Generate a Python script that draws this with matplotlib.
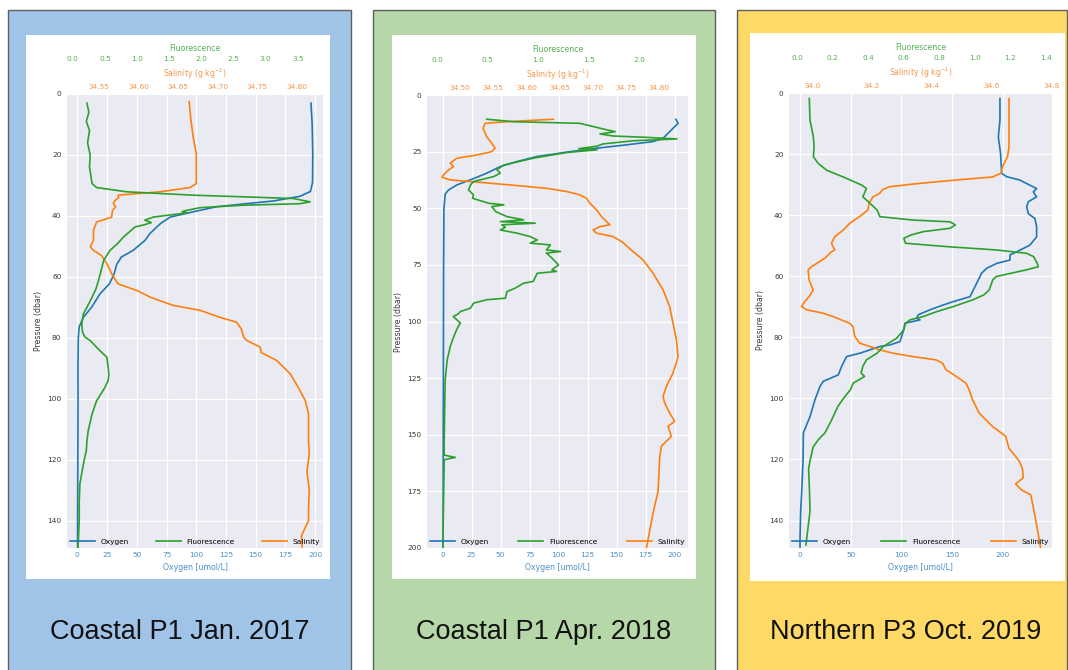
import matplotlib
matplotlib.use("Agg")
import matplotlib.pyplot as plt
from matplotlib.patches import Rectangle
from matplotlib.ticker import FixedLocator, FormatStrFormatter

W, H = 1068, 670

# ---------------- profile data (pressure in dbar, value) ----------------
# Coastal P1, Jan. 2017
p1_oxy_p = [3, 10, 20, 29, 32, 33.6, 35.1, 36, 37, 38.7, 40.4, 42.5, 45.8, 48, 51.3, 53.5,
            56, 59, 62.3, 65.6, 70, 73.3, 76.5, 80, 90, 100, 120, 140, 149]
p1_oxy = [196.5, 197.5, 198, 197.8, 196, 187, 165, 142, 117, 97, 78, 70, 61, 57, 47, 37,
          33, 31, 27, 19, 12, 5, 1.5, 0.8, 0.5, 0.6, 0.4, 0.2, 0.2]

p1_flu_p = [3, 6, 9, 12, 16, 20, 24, 29.4, 30.7, 32.1, 33.2, 34.3, 35.4, 36, 36.5, 37.3, 38.2,
            38.6, 39.0, 40.4, 41.4, 42.2, 43, 43.6, 46.9, 49, 51.3, 54.6, 58, 61.2, 64, 66.7,
            70, 72.1, 75.4, 78, 79.8, 80.9, 84.2, 86.4, 89.7, 92, 94, 96.3, 100.7, 105, 110.5,
            113.8, 117, 122, 128, 134, 140, 145, 149]
p1_flu = [0.22, 0.25, 0.21, 0.26, 0.23, 0.27, 0.26, 0.30, 0.37, 0.84, 1.87, 3.43, 3.69, 3.53,
          2.65, 1.98, 1.77, 1.70, 1.78, 1.25, 1.12, 1.22, 1.10, 0.97, 0.79, 0.70, 0.58, 0.48,
          0.44, 0.40, 0.36, 0.30, 0.22, 0.165, 0.14, 0.15, 0.19, 0.27, 0.42, 0.53, 0.55, 0.56,
          0.55, 0.50, 0.37, 0.30, 0.24, 0.22, 0.21, 0.16, 0.11, 0.10, 0.10, 0.09, 0.08]

p1_sal_p = [2.5, 8, 14, 19.5, 25, 29.4, 30.7, 32.1, 33.2, 34, 35, 36, 37, 38.2, 40.4, 42, 44.7,
            48, 50.2, 51.3, 53, 55.7, 59, 62.3, 64.5, 66.7, 69.4, 71, 73.3, 74.9, 77.1, 79.8,
            80.9, 83.1, 84.8, 87.5, 91.9, 96.3, 100.7, 105, 110, 114, 118, 124, 130, 136, 140,
            145, 149]
p1_sal = [34.664, 34.666, 34.669, 34.673, 34.673, 34.673, 34.665, 34.627, 34.574, 34.575,
          34.570, 34.568, 34.571, 34.567, 34.566, 34.547, 34.543, 34.543, 34.539, 34.543,
          34.553, 34.560, 34.566, 34.574, 34.598, 34.615, 34.644, 34.678, 34.703, 34.724,
          34.730, 34.733, 34.737, 34.754, 34.755, 34.775, 34.792, 34.802, 34.811, 34.815,
          34.815, 34.815, 34.816, 34.813, 34.816, 34.815, 34.815, 34.806, 34.807]

# Coastal P1, Apr. 2018
p2_oxy_p = [10.7, 12.5, 14.7, 16.9, 19.1, 20.6, 22, 23.5, 25, 27.2, 29.4, 31.6, 34.5, 37.5,
            39.7, 41.9, 43.7, 50, 75, 100, 150, 200]
p2_oxy = [201, 203, 198.6, 194.3, 190, 181, 158.5, 132.7, 110, 81, 64, 49.6, 38.2, 23.8,
          12.4, 5.2, 2.3, 1.2, 0.9, 0.8, 0.6, 0.5]

p2_flu_p = [10.7, 11.8, 12.5, 14, 15.4, 16.2, 17.2, 18.1, 18.7, 19.4, 20.2, 21.6, 22.6, 23.7,
            24.2, 25.4, 27.9, 30.9, 33, 34.5, 36, 38.2, 39.7, 41.9, 44.1, 45.6, 47.8, 48.5,
            49.3, 51.5, 53.7, 55.1, 55.9, 56.6, 57.3, 58.4, 59.6, 61, 62.5, 64, 65.4, 66.2,
            68.4, 69.1, 69.8, 72, 75, 77.2, 77.9, 78.7, 82.3, 83.1, 85.3, 86.8, 89.7, 90.4,
            91.9, 94.1, 95.6, 96.6, 97.8, 100.7, 102.9, 106.6, 111, 116.9, 125.7, 137.5, 152,
            159, 160, 161, 175, 190, 200]
p2_flu = [0.49, 0.76, 1.41, 1.55, 1.68, 1.76, 1.61, 1.74, 2.07, 2.37, 1.94, 1.64, 1.58, 1.40,
          1.58, 1.28, 0.95, 0.66, 0.59, 0.625, 0.56, 0.36, 0.33, 0.31, 0.36, 0.35, 0.51, 0.66,
          0.54, 0.58, 0.69, 0.855, 0.625, 0.97, 0.64, 0.675, 0.625, 0.79, 0.92, 0.99, 0.92,
          1.12, 1.08, 1.22, 1.08, 1.135, 1.20, 1.135, 1.18, 0.99, 0.95, 0.855, 0.77, 0.69,
          0.675, 0.49, 0.36, 0.33, 0.23, 0.21, 0.16, 0.23, 0.20, 0.165, 0.13, 0.10, 0.08,
          0.075, 0.07, 0.07, 0.18, 0.07, 0.065, 0.06, 0.06]

p2_sal_p = [10.7, 11.8, 12.5, 14.7, 18.4, 21.3, 23.5, 25, 26.5, 27.9, 30.1, 31.6, 33.1, 35.3,
            36.3, 37.5, 38.2, 39.7, 41.2, 42.6, 44.1, 45.6, 47.8, 50.7, 53.7, 55.9, 57.3, 58.1,
            59.6, 61, 62.5, 65, 68.4, 72.8, 78.7, 86, 93.4, 100.7, 108, 115.4, 118.3, 122.8,
            128.7, 133.1, 136, 140.4, 144.1, 146.3, 150.7, 155, 160, 175, 184.5, 200]
p2_sal = [34.6405, 34.570, 34.5376, 34.5346, 34.540, 34.5477, 34.5527, 34.5477, 34.525,
          34.495, 34.485, 34.490, 34.4824, 34.475, 34.4725, 34.485, 34.515, 34.575, 34.6305,
          34.6606, 34.6806, 34.6907, 34.6957, 34.7057, 34.7133, 34.7208, 34.7258, 34.7107,
          34.7006, 34.7057, 34.7307, 34.745, 34.7580, 34.7759, 34.791, 34.806, 34.816,
          34.821, 34.8262, 34.8286, 34.826, 34.821, 34.811, 34.806, 34.8085, 34.816, 34.8236,
          34.8135, 34.8186, 34.8036, 34.801, 34.7985, 34.791, 34.781]

# Northern P3, Oct. 2019
p3_oxy_p = [1.8, 8.9, 14.4, 19.8, 26.3, 27.4, 28.5, 30.2, 31.3, 32.4, 34, 35.6, 37.3, 39.5,
            41.1, 43.8, 47.1, 49.8, 52, 53, 54.7, 55.8, 57.4, 59, 62.3, 66.7, 68.3, 69.4, 71,
            72.6, 73.7, 74.3, 75.4, 78.1, 81.4, 82.5, 83, 84.1, 85.2, 86.3, 89.5, 92.3, 94.4,
            96.1, 100.4, 105.9, 111.3, 120, 130, 137, 145.5, 149]
p3_oxy = [197.4, 197.4, 195.8, 198, 199.1, 204, 217, 227, 233.6, 230.3, 233.6, 225.4, 223.8,
          225.4, 231.9, 233.6, 233.6, 227, 214, 207.3, 207.3, 194.2, 184.3, 179.3, 174.4,
          167.8, 151.4, 141.5, 128.3, 116.8, 115.2, 118.5, 103.6, 101.9, 98.7, 88.8, 79, 69.1,
          59.2, 46, 41.1, 37.8, 23, 19.7, 14.8, 9.9, 3.3, 3, 1.7, 0.6, 0, 0]

p3_flu_p = [1.8, 8.9, 14.4, 17.7, 20.9, 23.1, 25.3, 27.5, 30.2, 31.3, 34, 36.1, 38.3, 40.5,
            41.6, 42.2, 43.2, 44.3, 45.4, 46.5, 47.6, 49.2, 50.3, 51.4, 52.5, 53.6, 55.8, 56.9,
            57.9, 60.1, 61.2, 64.5, 66.1, 67.7, 69.9, 71.6, 73.2, 74.3, 75.4, 77.6, 80.3, 83,
            85.2, 87.4, 89.5, 91.7, 92.8, 95, 97.2, 99.3, 102.6, 107, 111.3, 113.5, 116, 120.5,
            123, 130, 137, 148]
p3_flu = [0.069, 0.073, 0.092, 0.096, 0.092, 0.12, 0.167, 0.26, 0.365, 0.39, 0.37, 0.41, 0.45,
          0.466, 0.65, 0.86, 0.89, 0.86, 0.71, 0.64, 0.60, 0.61, 0.84, 1.12, 1.29, 1.33, 1.35,
          1.356, 1.29, 1.12, 1.10, 1.08, 1.05, 0.99, 0.88, 0.785, 0.71, 0.635, 0.61, 0.60, 0.56,
          0.485, 0.45, 0.39, 0.37, 0.36, 0.38, 0.316, 0.30, 0.27, 0.23, 0.195, 0.157, 0.12,
          0.09, 0.073, 0.065, 0.07, 0.073, 0.05]

p3_sal_p = [1.8, 17.9, 20.9, 24.2, 26.3, 27.5, 28.5, 29.6, 30.7, 31.6, 32.9, 34, 36.1, 38.3,
            40.5, 42.7, 44.9, 47.1, 49.2, 51.4, 52, 54.1, 56.9, 57.9, 61.2, 64.5, 66.7, 68.3,
            69.9, 71, 72.1, 73.2, 74.3, 75.4, 76.5, 79.7, 81.9, 83, 84.1, 85.2, 86.3, 87.4,
            88.5, 90.6, 92.8, 95, 97.2, 100.4, 104.8, 109.2, 112.4, 116.3, 120.5, 123, 126,
            128, 130, 131.6, 137, 142.8, 149]
p3_sal = [34.658, 34.658, 34.653, 34.636, 34.631, 34.603, 34.481, 34.358, 34.258, 34.236,
          34.225, 34.203, 34.19, 34.186, 34.158, 34.125, 34.103, 34.075, 34.064, 34.075,
          34.064, 34.042, 33.997, 33.986, 33.989, 34.003, 33.989, 33.975, 33.964, 33.981,
          34.036, 34.069, 34.097, 34.125, 34.136, 34.142, 34.158, 34.192, 34.225, 34.269,
          34.336, 34.414, 34.436, 34.447, 34.481, 34.514, 34.525, 34.536, 34.558, 34.603,
          34.647, 34.658, 34.692, 34.703, 34.706, 34.68, 34.70, 34.731, 34.742, 34.753, 34.764]

titles = ["Coastal P1 Jan. 2017", "Coastal P1 Apr. 2018", "Northern P3 Oct. 2019"]
box_colors = ["#a0c4e8", "#b6d7a8", "#ffd966"]

# line colours and (lighter) label colours per variable
C_OXY, C_FLU, C_SAL = "#1f77b4", "#2ca02c", "#ff7f0e"
T_OXY, T_FLU, T_SAL = "#4a8fc6", "#55b055", "#f7964a"

plt.rcParams["font.family"] = ["DejaVu Sans"]

# layout in pixels: colour box, white card, plot area (x0, y0, x1, y1 from top-left)
panels = [
    dict(box=(8, 10, 351), card=(26, 35, 330, 579), ax=(67, 94, 323, 548),
         title_x=180,
         oxy=(p1_oxy_p, p1_oxy), flu=(p1_flu_p, p1_flu), sal=(p1_sal_p, p1_sal),
         ylim=149, yticks=range(0, 141, 20),
         oxy_lim=(-8.7, 206.6), oxy_ticks=range(0, 201, 25),
         flu_lim=(-0.09, 3.89), flu_ticks=[0, 0.5, 1.0, 1.5, 2.0, 2.5, 3.0, 3.5],
         sal_lim=(34.5095, 34.8333), sal_ticks=[34.55, 34.60, 34.65, 34.70, 34.75, 34.80],
         sal_fmt="%.2f"),
    dict(box=(373, 10, 715), card=(392, 35, 696, 579), ax=(427, 95, 688, 548),
         title_x=544,
         oxy=(p2_oxy_p, p2_oxy), flu=(p2_flu_p, p2_flu), sal=(p2_sal_p, p2_sal),
         ylim=200, yticks=range(0, 201, 25),
         oxy_lim=(-13.4, 211.5), oxy_ticks=range(0, 201, 25),
         flu_lim=(-0.1, 2.48), flu_ticks=[0, 0.5, 1.0, 1.5, 2.0],
         sal_lim=(34.45, 34.8437),
         sal_ticks=[34.50, 34.55, 34.60, 34.65, 34.70, 34.75, 34.80],
         sal_fmt="%.2f"),
    dict(box=(737, 10, 1067), card=(750, 33, 1065, 581), ax=(789, 93, 1052, 548),
         title_x=906,
         oxy=(p3_oxy_p, p3_oxy), flu=(p3_flu_p, p3_flu), sal=(p3_sal_p, p3_sal),
         ylim=149, yticks=range(0, 141, 20),
         oxy_lim=(-10.9, 248.8), oxy_ticks=range(0, 201, 50),
         flu_lim=(-0.045, 1.433), flu_ticks=[0, 0.2, 0.4, 0.6, 0.8, 1.0, 1.2, 1.4],
         sal_lim=(33.922, 34.802), sal_ticks=[34.0, 34.2, 34.4, 34.6, 34.8],
         sal_fmt="%.1f"),
]


def rect(x0, y0, x1, y1):
    return [x0 / W, 1 - y1 / H, (x1 - x0) / W, (y1 - y0) / H]


fig = plt.figure(figsize=(W / 100, H / 100), dpi=100)
fig.patch.set_facecolor("white")

TICK_FS = 5.3
LABEL_FS = 5.6
LW = 1.2

for i, cfg in enumerate(panels):
    bx0, by0, bx1 = cfg["box"]
    fig.patches.append(Rectangle((bx0 / W, -0.05), (bx1 - bx0) / W, 1.05 - by0 / H,
                                 transform=fig.transFigure, facecolor=box_colors[i],
                                 edgecolor="#5f5f5f", linewidth=1.0, zorder=-2))
    cx0, cy0, cx1, cy1 = cfg["card"]
    fig.patches.append(Rectangle((cx0 / W, 1 - cy1 / H), (cx1 - cx0) / W, (cy1 - cy0) / H,
                                 transform=fig.transFigure, facecolor="white",
                                 edgecolor="none", zorder=-1))
    fig.text(cfg["title_x"] / W, 1 - 632 / H, titles[i], ha="center", va="center",
             fontsize=19.5, family=["Liberation Sans", "DejaVu Sans"], color="#111111")

    ax = fig.add_axes(rect(*cfg["ax"]))
    ax.set_facecolor("#eaeaf2")
    ax2 = ax.twiny()   # salinity
    ax3 = ax.twiny()   # fluorescence

    l1, = ax.plot(cfg["oxy"][1], cfg["oxy"][0], color=C_OXY, lw=LW, label="Oxygen")
    l2, = ax3.plot(cfg["flu"][1], cfg["flu"][0], color=C_FLU, lw=LW, label="Fluorescence")
    l3, = ax2.plot(cfg["sal"][1], cfg["sal"][0], color=C_SAL, lw=LW, label="Salinity")

    ax.set_ylim(cfg["ylim"], 0)
    ax.yaxis.set_major_locator(FixedLocator(list(cfg["yticks"])))
    ax.set_xlim(*cfg["oxy_lim"])
    ax.xaxis.set_major_locator(FixedLocator(list(cfg["oxy_ticks"])))
    ax2.set_xlim(*cfg["sal_lim"])
    ax2.xaxis.set_major_locator(FixedLocator(cfg["sal_ticks"]))
    ax2.xaxis.set_major_formatter(FormatStrFormatter(cfg["sal_fmt"]))
    ax3.set_xlim(*cfg["flu_lim"])
    ax3.xaxis.set_major_locator(FixedLocator(cfg["flu_ticks"]))
    ax3.xaxis.set_major_formatter(FormatStrFormatter("%.1f"))
    ax3.spines["top"].set_position(("outward", 19.7))

    for a in (ax, ax2, ax3):
        for s in a.spines.values():
            s.set_visible(False)
        a.tick_params(length=0, pad=3.2, labelsize=TICK_FS)
    ax.grid(True, color="white", lw=0.9)
    ax.set_axisbelow(True)

    ax.tick_params(axis="y", colors="#3a3a3a", pad=4)
    ax.tick_params(axis="x", colors=T_OXY)
    ax2.tick_params(axis="x", colors=T_SAL)
    ax3.tick_params(axis="x", colors=T_FLU)

    ax.set_ylabel("Pressure (dbar)", fontsize=LABEL_FS, color="#3a3a3a", labelpad=3)
    ax.set_xlabel("Oxygen [umol/L]", fontsize=LABEL_FS, color=T_OXY, labelpad=3.5)
    ax2.set_xlabel("Salinity (g kg$^{-1}$)", fontsize=LABEL_FS, color=T_SAL, labelpad=5)
    ax3.set_xlabel("Fluorescence", fontsize=LABEL_FS, color=T_FLU, labelpad=4)

    ax3.legend(handles=[l1, l2, l3], loc="lower left", ncol=3, mode="expand",
               bbox_to_anchor=(0, 0, 1, 0.06), frameon=False, fontsize=TICK_FS,
               handlelength=3.4, borderaxespad=0.0)

fig.savefig("out.png", dpi=100)
